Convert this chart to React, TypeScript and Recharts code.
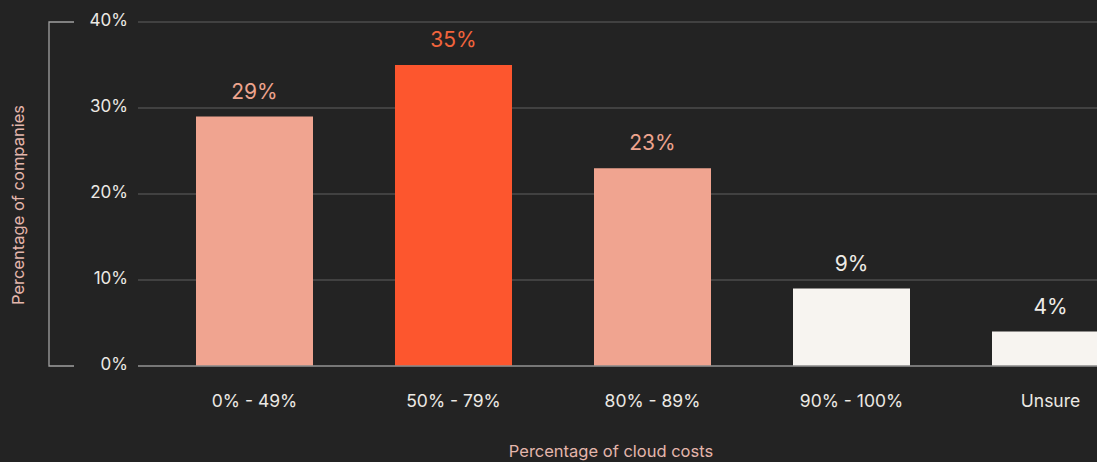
import React from 'react'
import { BarChart, Bar, XAxis, YAxis, CartesianGrid, Cell, LabelList } from 'recharts'

const categories = ['0% - 49%', '50% - 79%', '80% - 89%', '90% - 100%', 'Unsure']
const shares = [29, 35, 23, 9, 4]
const yTicks = [0, 10, 20, 30, 40]

const barColors = ['#f0a490', '#fd562e', '#f0a490', '#f7f4f0', '#f7f4f0']
const labelColors = ['#eea48e', '#f2643c', '#eea48e', '#efece7', '#efece7']

const data = categories.map((name, i) => ({ name, value: shares[i] }))

const BG = '#232323'
const TEXT = '#ece9e4'
const TITLE = '#e4b6ac'
const FONT = 'Inter, "Noto Sans", sans-serif'

const CHART_W = 1150
const CHART_H = 462
const TOP = 22
const XAXIS_H = 96
const YAXIS_W = 138

export default function App() {
  const plotBottom = CHART_H - XAXIS_H

  return (
    <div
      style={{
        position: 'absolute',
        left: 0,
        top: 0,
        width: 1097,
        height: 462,
        overflow: 'hidden',
        background: BG,
        fontFamily: FONT,
      }}
    >
      <BarChart
        width={CHART_W}
        height={CHART_H}
        data={data}
        margin={{ top: TOP, right: 0, bottom: 0, left: 0 }}
        barSize={117}
      >
        <CartesianGrid vertical={false} stroke="#606060" strokeWidth={1.2} />
        <XAxis
          dataKey="name"
          height={XAXIS_H}
          axisLine={{ stroke: '#8a8a8a', strokeWidth: 1.5 }}
          tickLine={false}
          tickSize={0}
          tickMargin={0}
          padding={{ left: 17, right: 0 }}
          interval={0}
          tick={({ x, y, payload }: any) => (
            <text x={x} y={y} dy={41} textAnchor="middle" fill={TEXT} fontSize={17.5} fontFamily={FONT}>
              {payload.value}
            </text>
          )}
          label={{
            value: 'Percentage of cloud costs',
            content: ({ viewBox }: any) => (
              <text
                x={viewBox.x + viewBox.width / 2 - 33}
                y={viewBox.y + viewBox.height - 5}
                textAnchor="middle"
                fill={TITLE}
                fontSize={16.5}
                fontFamily={FONT}
              >
                Percentage of cloud costs
              </text>
            ),
          }}
        />
        <YAxis
          width={YAXIS_W}
          domain={[0, 40]}
          ticks={yTicks}
          axisLine={false}
          tickLine={false}
          tickSize={0}
          tickMargin={10}
          tick={({ x, y, payload }: any) => (
            <text x={x} y={y} dy={4} textAnchor="end" fill={TEXT} fontSize={17} fontFamily={FONT}>
              {payload.value}%
            </text>
          )}
          label={{
            value: 'Percentage of companies',
            content: ({ viewBox }: any) => {
              const cx = 18
              const cy = viewBox.y + viewBox.height / 2 + 11
              return (
                <text
                  x={cx}
                  y={cy}
                  transform={`rotate(-90 ${cx} ${cy})`}
                  textAnchor="middle"
                  dominantBaseline="central"
                  fill={TITLE}
                  fontSize={16.5}
                  fontFamily={FONT}
                >
                  Percentage of companies
                </text>
              )
            },
          }}
        />
        <Bar dataKey="value" isAnimationActive={false}>
          {data.map((d, i) => (
            <Cell key={d.name} fill={barColors[i]} />
          ))}
          <LabelList
            dataKey="value"
            content={({ x, y, width, value, index }: any) => (
              <text
                x={x + width / 2}
                y={y - 18}
                textAnchor="middle"
                fill={labelColors[index]}
                fontSize={21}
                fontFamily={FONT}
              >
                {value}%
              </text>
            )}
          />
        </Bar>
      </BarChart>
      {/* bracket on the far left */}
      <svg
        width={80}
        height={CHART_H}
        style={{ position: 'absolute', left: 0, top: 0, pointerEvents: 'none' }}
      >
        <polyline
          points={`74,${TOP} 49,${TOP} 49,${plotBottom} 74,${plotBottom}`}
          fill="none"
          stroke="#a0a0a0"
          strokeWidth={1.3}
        />
      </svg>
    </div>
  )
}
